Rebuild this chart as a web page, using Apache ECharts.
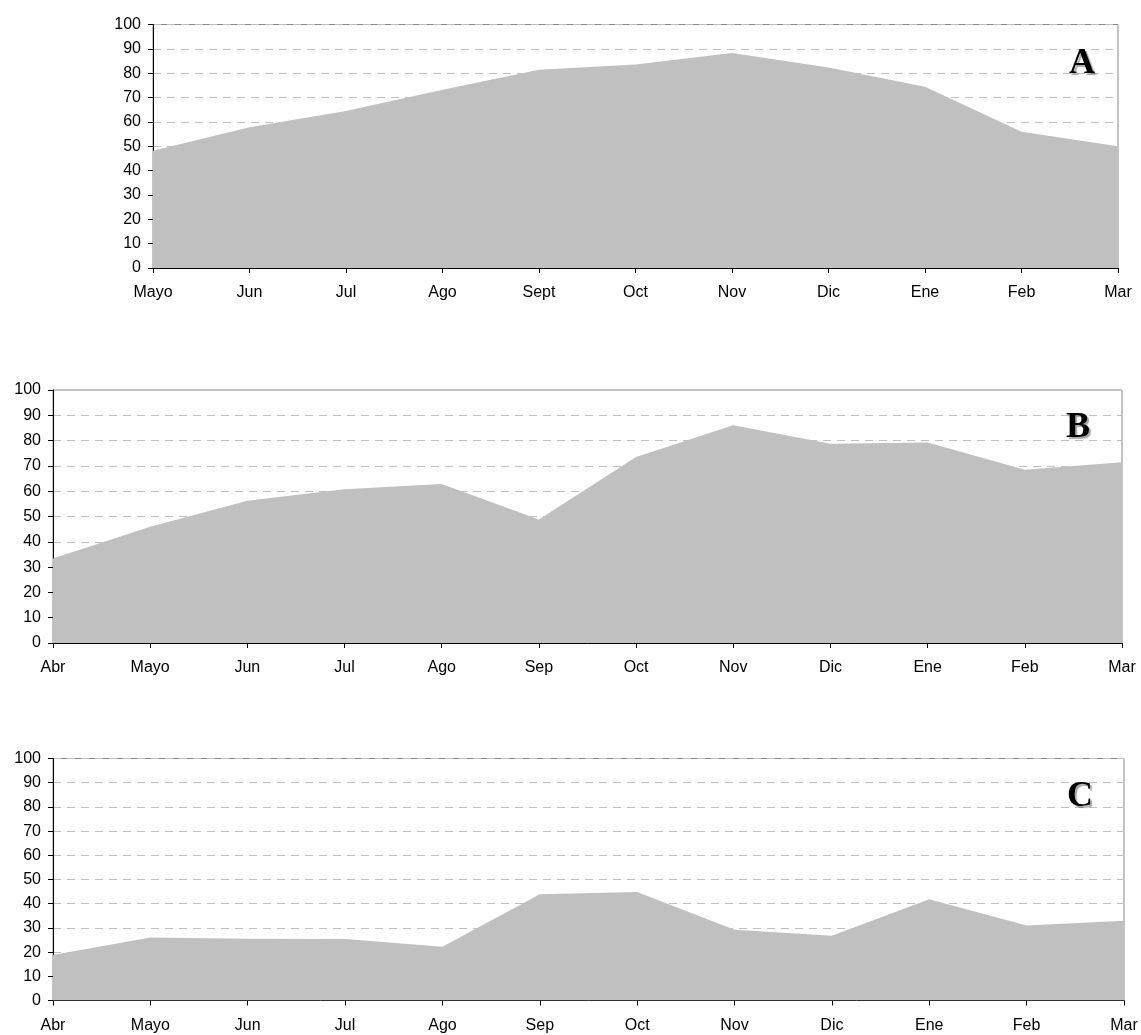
<!DOCTYPE html>
<html>
<head>
<meta charset="utf-8">
<script src="https://cdn.jsdelivr.net/npm/echarts@6/dist/echarts.min.js"></script>
<style>html,body{margin:0;padding:0;background:#fff}#c{width:1141px;height:1035px}</style>
</head>
<body>
<div id="c"></div>
<script>
const catsA = ['Mayo','Jun','Jul','Ago','Sept','Oct','Nov','Dic','Ene','Feb','Mar'];
const valsA = [48.2, 57.8, 64.5, 73.2, 81.4, 83.6, 88.3, 82.3, 74.4, 56, 50];
const catsB = ['Abr','Mayo','Jun','Jul','Ago','Sep','Oct','Nov','Dic','Ene','Feb','Mar'];
const valsB = [33.4, 45.9, 56.2, 60.8, 62.8, 48.8, 73.5, 86.1, 78.8, 79.2, 68.5, 71.4];
const catsC = ['Abr','Mayo','Jun','Jul','Ago','Sep','Oct','Nov','Dic','Ene','Feb','Mar'];
const valsC = [18.8, 26, 25.5, 25.4, 22.2, 43.9, 44.8, 29.2, 26.8, 41.8, 31, 33];
const yTicks = [0,10,20,30,40,50,60,70,80,90,100];
const panelLabels = ['A','B','C'];

const chart = echarts.init(document.getElementById('c'), null, {renderer:'canvas'});
const grids = [
  {left:153, right:23, top:24.5, height:243.5},
  {left:53, right:19, top:390, height:253},
  {left:53, right:17, top:758.5, height:242}
];
const cats = [catsA, catsB, catsC];
const vals = [valsA, valsB, valsC];
const font = '"Liberation Sans", Arial, sans-serif';

const option = {
  animation:false,
  grid: grids.map(g => Object.assign({show:true, borderColor:'#888', borderWidth:1, backgroundColor:'transparent'}, g)),
  xAxis: cats.map((c,i) => ({
    type:'category', gridIndex:i, data:c, boundaryGap:false,
    axisLine:{show:true, lineStyle:{color:'#000', width:1}},
    axisTick:{show:true, length:5, lineStyle:{color:'#000'}},
    axisLabel:{color:'#000', fontFamily:font, fontSize:16, margin:17, interval:0},
    splitLine:{show:false}
  })),
  yAxis: cats.map((c,i) => ({
    type:'value', gridIndex:i, min:0, max:100, interval:10,
    axisLine:{show:true, lineStyle:{color:'#000', width:1}},
    axisTick:{show:true, length:5, lineStyle:{color:'#000'}},
    axisLabel:{color:'#000', fontFamily:font, fontSize:16, margin:12},
    splitLine:{show:true, lineStyle:{color:'#c0c0c0', type:[8,6], width:1}}
  })),
  series: vals.map((v,i) => ({
    type:'line', xAxisIndex:i, yAxisIndex:i, data:v, symbol:'none',
    lineStyle:{width:0, color:'#c0c0c0'},
    areaStyle:{color:'#c0c0c0', opacity:1},
    z:1
  })),
  graphic: panelLabels.map((t,i) => ({
    type:'text', right: [46,51,48][i], top:[46,410,779][i], z:100,
    style:{text:t, font:'bold 36px "Liberation Serif", "Times New Roman", serif', fill:'#000',
      textShadowColor:'rgba(0,0,0,0.35)', textShadowOffsetX:2, textShadowOffsetY:2, textShadowBlur:1}
  }))
};
chart.setOption(option);
</script>
</body>
</html>
